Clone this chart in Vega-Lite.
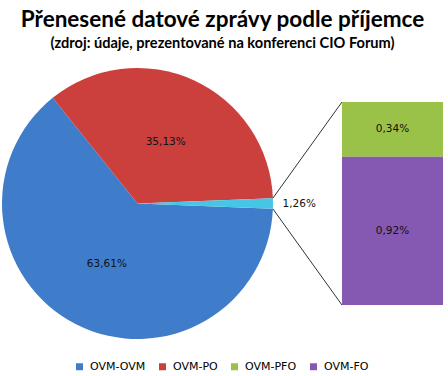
{
  "$schema": "https://vega.github.io/schema/vega-lite/v6.json",
  "padding": {"left": 2, "top": 9, "right": 5, "bottom": 2},
  "config": {
    "view": {"stroke": null},
    "font": "DejaVu Sans",
    "locale": {"number": {"decimal": ",", "thousands": " ", "grouping": [3], "currency": ["", " Kč"]}}
  },
  "title": {
    "text": "Přenesené datové zprávy podle příjemce",
    "subtitle": "(zdroj: údaje, prezentované na konferenci CIO Forum)",
    "font": "Lato", "fontWeight": "bold", "fontSize": 22.5, "color": "#000000",
    "subtitleFont": "Lato", "subtitleFontWeight": "bold", "subtitleFontSize": 14.6, "subtitleColor": "#000000",
    "subtitlePadding": 4, "anchor": "middle", "offset": 16
  },
  "data": {"values": [
    {"kategorie": "OVM-OVM", "podil": 0.6361, "cast": "kolac"},
    {"kategorie": "OVM-PO", "podil": 0.3513, "cast": "kolac"},
    {"kategorie": "Ostatní", "podil": 0.0126, "cast": "kolac"},
    {"kategorie": "OVM-PFO", "podil": 0.0034, "cast": "sloupec"},
    {"kategorie": "OVM-FO", "podil": 0.0092, "cast": "sloupec"}
  ]},
  "hconcat": [
    {
      "width": 271, "height": 271,
      "layer": [
        {
          "transform": [{"filter": "datum.cast === 'kolac'"}],
          "mark": {"type": "arc", "radius": 135.5},
          "encoding": {
            "theta": {"field": "podil", "type": "quantitative", "stack": true, "scale": {"range": [1.6104, 7.8936]}},
            "order": {"field": "kategorie", "type": "ordinal", "sort": "ascending"},
            "color": {
              "field": "kategorie", "type": "nominal",
              "scale": {"domain": ["OVM-OVM", "OVM-PO", "OVM-PFO", "OVM-FO", "Ostatní"], "range": ["#3f7dca", "#cb3f3d", "#9bc248", "#8558b2", "#45c6e6"]},
              "legend": {"orient": "none", "legendX": 72, "legendY": 293, "direction": "horizontal", "title": null,
                "values": ["OVM-OVM", "OVM-PO", "OVM-PFO", "OVM-FO"], "symbolType": "square", "symbolSize": 49,
                "symbolStrokeWidth": 0, "labelFont": "DejaVu Sans", "labelFontSize": 11, "labelColor": "#000000",
                "labelOffset": 5, "columnPadding": 11}
            }
          }
        },
        {
          "transform": [{"filter": "datum.cast === 'kolac'"}],
          "mark": {"type": "text", "radius": 68, "fontSize": 10.5, "font": "DejaVu Sans", "color": "#111111"},
          "encoding": {
            "theta": {"field": "podil", "type": "quantitative", "stack": true},
            "order": {"field": "kategorie", "type": "ordinal", "sort": "ascending"},
            "text": {"condition": {"test": "datum.kategorie !== 'Ostatní'", "field": "podil", "type": "quantitative", "format": ".2%"}, "value": ""}
          }
        },
        {
          "transform": [{"filter": "datum.cast === 'kolac'"}],
          "mark": {"type": "text", "radius": 145, "align": "left", "baseline": "middle", "fontSize": 10.5, "font": "DejaVu Sans", "color": "#111111"},
          "encoding": {
            "theta": {"field": "podil", "type": "quantitative", "stack": true},
            "order": {"field": "kategorie", "type": "ordinal", "sort": "ascending"},
            "text": {"condition": {"test": "datum.kategorie === 'Ostatní'", "field": "podil", "type": "quantitative", "format": ".2%"}, "value": ""}
          }
        },
        {
          "data": {"values": [{}]},
          "mark": {"type": "rule", "color": "#333333", "strokeWidth": 1},
          "encoding": {
            "x": {"datum": 0.9992, "type": "quantitative", "scale": {"domain": [-1, 1], "nice": false, "zero": false}, "axis": null},
            "y": {"datum": 0.0396, "type": "quantitative", "scale": {"domain": [-1, 1], "nice": false, "zero": false}, "axis": null},
            "x2": {"datum": 1.509},
            "y2": {"datum": 0.749}
          }
        },
        {
          "data": {"values": [{}]},
          "mark": {"type": "rule", "color": "#333333", "strokeWidth": 1},
          "encoding": {
            "x": {"datum": 0.9992, "type": "quantitative"},
            "y": {"datum": -0.0396, "type": "quantitative"},
            "x2": {"datum": 1.509},
            "y2": {"datum": -0.749}
          }
        }
      ]
    },
    {
      "width": 101, "height": 203,
      "transform": [{"filter": "datum.cast === 'sloupec'"}],
      "layer": [
        {
          "mark": {"type": "bar"},
          "encoding": {
            "x": {"field": "cast", "type": "nominal", "axis": null, "scale": {"paddingInner": 0, "paddingOuter": 0}},
            "y": {"field": "podil", "type": "quantitative", "stack": "zero", "axis": null, "scale": {"nice": false}},
            "order": {"field": "kategorie", "type": "ordinal", "sort": "ascending"},
            "color": {"field": "kategorie", "type": "nominal"}
          }
        },
        {
          "mark": {"type": "text", "fontSize": 10.5, "font": "DejaVu Sans", "color": "#111111", "baseline": "middle"},
          "encoding": {
            "x": {"field": "cast", "type": "nominal", "axis": null},
            "y": {"field": "podil", "type": "quantitative", "stack": "zero", "bandPosition": 0.5},
            "order": {"field": "kategorie", "type": "ordinal", "sort": "ascending"},
            "text": {"field": "podil", "type": "quantitative", "format": ".2%"}
          }
        }
      ]
    }
  ],
  "spacing": 69,
  "bounds": "flush",
  "center": true
}
